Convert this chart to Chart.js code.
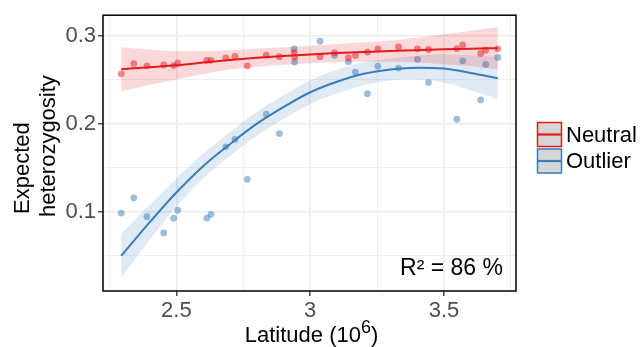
<!DOCTYPE html>
<html>
<head>
<meta charset="utf-8">
<script src="https://cdn.jsdelivr.net/npm/chart.js@4"></script>
<style>
  body { margin: 0; background: #fff; }
  #wrap { width: 643px; height: 347px; }
</style>
</head>
<body>
<div id="wrap"><canvas id="chart" width="643" height="347"></canvas></div>
<script>
// latitude (10^6) of each sampled site
const latitude = [2.294, 2.341, 2.390, 2.453, 2.490, 2.505, 2.614, 2.629, 2.685, 2.719,
  2.765, 2.836, 2.885, 2.940, 2.942, 3.037, 3.091, 3.143, 3.169, 3.214,
  3.253, 3.330, 3.401, 3.442, 3.548, 3.570, 3.637, 3.656, 3.701];
const neutralHe = [0.257, 0.2685, 0.266, 0.267, 0.2663, 0.269, 0.2723, 0.2723, 0.275, 0.2768,
  0.266, 0.2783, 0.2764, 0.281, 0.276, 0.2765, 0.281, 0.2753, 0.2779, 0.2817,
  0.2854, 0.2876, 0.2854, 0.2846, 0.2857, 0.2899, 0.2801, 0.2839, 0.2854];
const outlierHe = [0.0987, 0.116, 0.0945, 0.0761, 0.0929, 0.1019, 0.093, 0.0972, 0.174, 0.1824,
  0.137, 0.211, 0.189, 0.2852, 0.2704, 0.294, 0.278, 0.2706, 0.259, 0.2343,
  0.2657, 0.2635, 0.2734, 0.247, 0.2053, 0.2717, 0.2273, 0.2676, 0.2756];

// smoothed fits + confidence bands
const fitLat = [2.294, 2.4, 2.5, 2.6, 2.7, 2.8, 2.9, 3.0, 3.1, 3.2, 3.3, 3.4, 3.5, 3.6, 3.701];
const neutralFit = [0.2621, 0.2645, 0.2666, 0.2698, 0.2728, 0.2753, 0.2773, 0.2790, 0.2805, 0.2818, 0.2828, 0.2839, 0.2849, 0.2856, 0.2861];
const neutralLow = [0.2371, 0.2445, 0.2506, 0.2568, 0.2618, 0.2648, 0.2673, 0.2690, 0.2700, 0.2708, 0.2708, 0.2699, 0.2679, 0.2656, 0.2621];
const neutralHigh = [0.2871, 0.2845, 0.2826, 0.2828, 0.2838, 0.2858, 0.2873, 0.2890, 0.2910, 0.2928, 0.2948, 0.2979, 0.3019, 0.3056, 0.3101];
const outlierFit = [0.050, 0.088, 0.122, 0.152, 0.177, 0.200, 0.219, 0.236, 0.248, 0.257, 0.262, 0.264, 0.263, 0.258, 0.252];
const outlierLow = [0.025, 0.068, 0.106, 0.138, 0.1635, 0.1865, 0.2055, 0.2225, 0.2345, 0.244, 0.2495, 0.2505, 0.247, 0.238, 0.228];
const outlierHigh = [0.075, 0.108, 0.138, 0.166, 0.1905, 0.2135, 0.2325, 0.2495, 0.2615, 0.270, 0.2745, 0.2775, 0.279, 0.278, 0.276];

const xTicks = [2.25, 2.5, 2.75, 3, 3.25, 3.5, 3.75];
const xMajor = [2.5, 3, 3.5];
const yTicks = [0.05, 0.1, 0.15, 0.2, 0.25, 0.3];
const yMajor = [0.1, 0.2, 0.3];
const seriesNames = ["Neutral", "Outlier"];
const r2Label = "R\u00b2 = 86 %";

const RED = "#E41A1C";
const BLUE = "#377EB8";
const FONT = "'Liberation Sans', Arial, sans-serif";

const pts = (xs, ys) => xs.map((x, i) => ({ x, y: ys[i] }));
const isMajor = (list, v) => list.some((m) => Math.abs(m - v) < 1e-9);

function gridOpts(major) {
  return {
    color: "#ebebeb",
    lineWidth: (c) => (c.tick && isMajor(major, c.tick.value) ? 1.6 : 0.8),
    tickColor: (c) => (c.tick && isMajor(major, c.tick.value) ? "#333" : "rgba(0,0,0,0)"),
    tickLength: 5,
    tickWidth: 1.3,
  };
}

const decor = {
  id: "decor",
  afterDraw(chart) {
    const { ctx, chartArea: a } = chart;
    ctx.save();
    ctx.strokeStyle = "#000";
    ctx.lineWidth = 1.5;
    ctx.strokeRect(a.left, a.top, a.right - a.left, a.bottom - a.top);

    ctx.fillStyle = "#000";
    ctx.font = "23px " + FONT;
    ctx.textAlign = "right";
    ctx.textBaseline = "alphabetic";
    ctx.fillText(r2Label, 503, 275);

    // x title with superscript
    ctx.font = "22px " + FONT;
    const main = "Latitude (10";
    const close = ")";
    const wMain = ctx.measureText(main).width;
    const wClose = ctx.measureText(close).width;
    ctx.font = "18px " + FONT;
    const wSup = ctx.measureText("6").width;
    const total = wMain + wSup + wClose;
    let x0 = (a.left + a.right) / 2 + 2 - total / 2;
    ctx.textAlign = "left";
    ctx.font = "22px " + FONT;
    ctx.fillText(main, x0, 342);
    ctx.font = "18px " + FONT;
    ctx.fillText("6", x0 + wMain, 333);
    ctx.font = "22px " + FONT;
    ctx.fillText(close, x0 + wMain + wSup, 342);

    // y title, two lines rotated
    ctx.save();
    ctx.translate(28.5, 214);
    ctx.rotate(-Math.PI / 2);
    ctx.fillText("Expected", 0, 0);
    ctx.restore();
    ctx.save();
    ctx.translate(55, 217);
    ctx.rotate(-Math.PI / 2);
    ctx.fillText("heterozygosity", 0, 0);
    ctx.restore();

    // legend
    const cols = [RED, BLUE];
    seriesNames.forEach((name, i) => {
      const bx = 537.5, by = 122.5 + i * 26.5, s = 24;
      ctx.fillStyle = "#d6d6d6";
      ctx.fillRect(bx, by, s, s);
      ctx.strokeStyle = cols[i];
      ctx.lineWidth = 1.5;
      ctx.strokeRect(bx, by, s, s);
      ctx.lineWidth = 2.2;
      ctx.beginPath();
      ctx.moveTo(bx, by + s / 2);
      ctx.lineTo(bx + s, by + s / 2);
      ctx.stroke();
      ctx.fillStyle = "#000";
      ctx.font = "22px " + FONT;
      ctx.textBaseline = "middle";
      ctx.fillText(name, 566, by + s / 2 + 1);
      ctx.textBaseline = "alphabetic";
    });
    ctx.restore();
  },
};

Chart.defaults.font.family = FONT;
Chart.defaults.font.size = 22;

new Chart(document.getElementById("chart"), {
  type: "scatter",
  data: {
    datasets: [
      { label: "Neutral fit", data: pts(fitLat, neutralFit), showLine: true, borderColor: RED, borderWidth: 2, pointRadius: 0, cubicInterpolationMode: "monotone", order: 0 },
      { label: "Outlier fit", data: pts(fitLat, outlierFit), showLine: true, borderColor: BLUE, borderWidth: 2, pointRadius: 0, cubicInterpolationMode: "monotone", order: 0 },
      { label: "Neutral low", data: pts(fitLat, neutralLow), showLine: true, borderWidth: 0, borderColor: "rgba(0,0,0,0)", pointRadius: 0, cubicInterpolationMode: "monotone", fill: false, order: 1 },
      { label: "Neutral high", data: pts(fitLat, neutralHigh), showLine: true, borderWidth: 0, borderColor: "rgba(0,0,0,0)", pointRadius: 0, cubicInterpolationMode: "monotone", fill: 2, backgroundColor: "rgba(228,26,28,0.17)", order: 1 },
      { label: "Outlier low", data: pts(fitLat, outlierLow), showLine: true, borderWidth: 0, borderColor: "rgba(0,0,0,0)", pointRadius: 0, cubicInterpolationMode: "monotone", fill: false, order: 1 },
      { label: "Outlier high", data: pts(fitLat, outlierHigh), showLine: true, borderWidth: 0, borderColor: "rgba(0,0,0,0)", pointRadius: 0, cubicInterpolationMode: "monotone", fill: 4, backgroundColor: "rgba(55,126,184,0.16)", order: 1 },
      { label: "Neutral", data: pts(latitude, neutralHe), pointRadius: 3.4, pointBorderWidth: 0, backgroundColor: "rgba(228,26,28,0.5)", order: 2 },
      { label: "Outlier", data: pts(latitude, outlierHe), pointRadius: 3.4, pointBorderWidth: 0, backgroundColor: "rgba(55,126,184,0.5)", order: 2 },
    ],
  },
  options: {
    responsive: false,
    animation: false,
    layout: { padding: { left: 0, right: 127, top: 12, bottom: 0 } },
    plugins: { legend: { display: false }, tooltip: { enabled: false } },
    scales: {
      x: {
        type: "linear",
        min: 2.226,
        max: 3.769,
        afterBuildTicks: (s) => { s.ticks = xTicks.map((v) => ({ value: v })); },
        afterFit: (s) => { s.height = 56; },
        ticks: {
          color: "#4d4d4d",
          padding: 2,
          autoSkip: false,
          maxRotation: 0,
          callback: (v) => (isMajor(xMajor, v) ? String(v) : ""),
        },
        grid: gridOpts(xMajor),
        border: { display: false },
      },
      y: {
        min: 0.0101,
        max: 0.3236,
        afterBuildTicks: (s) => { s.ticks = yTicks.map((v) => ({ value: v })); },
        afterFit: (s) => { s.width = 103; },
        ticks: {
          color: "#4d4d4d",
          padding: 2,
          autoSkip: false,
          callback: (v) => (isMajor(yMajor, v) ? v.toFixed(1) : ""),
        },
        grid: gridOpts(yMajor),
        border: { display: false },
      },
    },
  },
  plugins: [decor],
});
</script>
</body>
</html>
